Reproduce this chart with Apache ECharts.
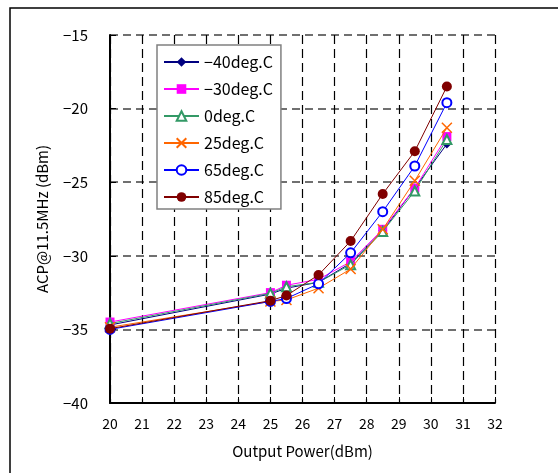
<!DOCTYPE html>
<html>
<head>
<meta charset="utf-8">
<script src="https://cdn.jsdelivr.net/npm/echarts@6/dist/echarts.min.js"></script>
<style>
html,body{margin:0;padding:0;background:#fff;}
#chart{width:558px;height:473px;}
</style>
</head>
<body>
<div id="chart"></div>
<script>
const xValues = [20, 25, 25.5, 26.5, 27.5, 28.5, 29.5, 30.5];
const seriesNames = ['\u221240deg.C', '\u221230deg.C', '0deg.C', '25deg.C', '65deg.C', '85deg.C'];
const acpM40 = [-34.7, -32.6, -32.2, -31.8, -30.5, -28.3, -25.4, -22.4];
const acpM30 = [-34.5, -32.5, -32.0, -31.6, -30.4, -28.2, -25.4, -21.9];
const acp0   = [-34.6, -32.55, -32.1, -31.8, -30.6, -28.35, -25.6, -22.1];
const acp25  = [-34.85, -33.1, -33.0, -32.2, -30.9, -28.2, -24.9, -21.3];
const acp65  = [-35.0, -33.1, -32.9, -31.9, -29.8, -27.0, -23.9, -19.6];
const acp85  = [-34.95, -33.05, -32.7, -31.3, -29.0, -25.8, -22.9, -18.5];
const xTicks = {min: 20, max: 32, interval: 1};
const yTicks = {min: -40, max: -15, interval: 5};

const allValues = [acpM40, acpM30, acp0, acp25, acp65, acp85];
const colors = ['#000080', '#FF00FF', '#339966', '#FF6600', '#0000FF', '#800000'];
const symbols = ['diamond', 'rect', 'emptyTriangle', 'path://M0,0L10,10M10,0L0,10', 'emptyCircle', 'circle'];
const sizes = [9, 9, 9, 10, 9, 10];
const FONT = '"Noto Sans CJK JP", "Noto Sans", sans-serif';
const minusFmt = v => String(v).replace('-', '\u2212');

const series = seriesNames.map((name, i) => {
  const isX = i === 3;
  const hollow = i === 2 || i === 4;
  return {
    name: name,
    type: 'line',
    data: xValues.map((x, k) => [x, allValues[i][k]]),
    symbol: symbols[i],
    symbolSize: sizes[i],
    showAllSymbol: true,
    lineStyle: {color: colors[i], width: 1},
    itemStyle: isX
      ? {color: 'rgba(0,0,0,0)', borderColor: colors[i], borderWidth: 1.5}
      : hollow
        ? {color: colors[i], borderColor: colors[i], borderWidth: 1.2}
        : {color: colors[i], borderColor: colors[i], borderWidth: 0},
    emphasis: {disabled: true},
    animation: false,
    z: 2 + i
  };
});

const chart = echarts.init(document.getElementById('chart'), null, {renderer: 'canvas'});
chart.setOption({
  animation: false,
  backgroundColor: '#fff',
  textStyle: {fontFamily: FONT},
  graphic: [{
    type: 'rect',
    shape: {x: 10, y: 8, width: 600, height: 500},
    style: {fill: 'none', stroke: '#000', lineWidth: 1.5},
    silent: true
  }],
  grid: {left: 110, top: 35, right: 63, bottom: 70, containLabel: false},
  legend: {
    orient: 'vertical',
    left: 157, top: 45,
    padding: [8, 8, 3, 6],
    itemGap: 9,
    itemWidth: 35,
    itemHeight: 12,
    backgroundColor: '#fff',
    borderColor: '#808080',
    borderWidth: 1.5,
    borderRadius: 0,
    textStyle: {fontFamily: FONT, fontSize: 16, color: '#000', lineHeight: 18},
    data: seriesNames
  },
  xAxis: {
    type: 'value',
    min: xTicks.min, max: xTicks.max, interval: xTicks.interval,
    name: 'Output Power(dBm)',
    nameLocation: 'middle',
    nameGap: 41,
    nameTextStyle: {fontFamily: FONT, fontSize: 15, color: '#000'},
    axisLine: {show: true, onZero: false, lineStyle: {color: '#000', width: 2}},
    axisTick: {show: true, inside: true, length: 6, lineStyle: {color: '#000', width: 1}},
    axisLabel: {fontFamily: FONT, fontSize: 14, color: '#000', margin: 14},
    splitLine: {show: true, lineStyle: {color: '#000', width: 1.2, type: [9, 5]}}
  },
  yAxis: {
    type: 'value',
    min: yTicks.min, max: yTicks.max, interval: yTicks.interval,
    name: 'ACP@11.5MHz (dBm)',
    nameLocation: 'middle',
    nameGap: 60,
    nameTextStyle: {fontFamily: FONT, fontSize: 15, color: '#000'},
    axisLine: {show: true, onZero: false, lineStyle: {color: '#000', width: 2}},
    axisTick: {show: true, inside: true, length: 6, lineStyle: {color: '#000', width: 1}},
    axisLabel: {fontFamily: FONT, fontSize: 15, color: '#000', margin: 22, formatter: minusFmt},
    splitLine: {show: true, lineStyle: {color: '#707070', width: 1.8, type: [8, 5]}}
  },
  series: series
});
</script>
</body>
</html>
